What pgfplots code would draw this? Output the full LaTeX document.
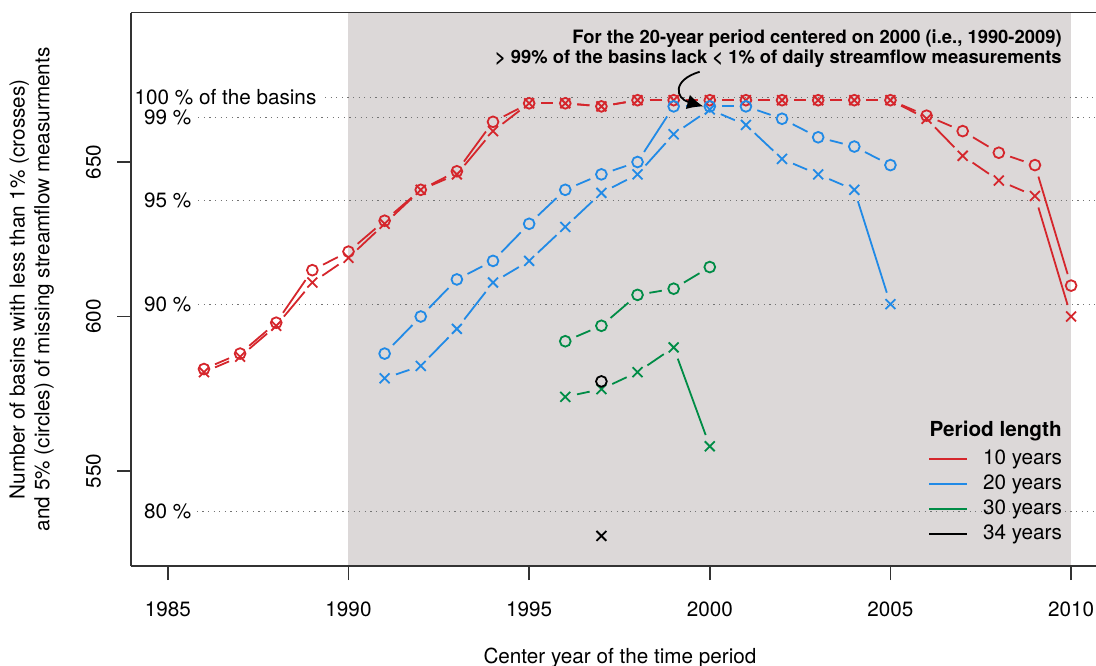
\documentclass[border=0pt]{standalone}
\usepackage{fontspec}
\setmainfont{TeX Gyre Heros}
\usepackage{pgfplots}
\usepackage{pgfplotstable}
\pgfplotsset{compat=1.18}
\usetikzlibrary{arrows.meta}

\definecolor{r10}{RGB}{213,38,44}
\definecolor{b20}{RGB}{33,138,230}
\definecolor{g30}{RGB}{0,140,70}
\definecolor{bgc}{RGB}{220,216,216}

\pgfplotstableread{
year c x
1986 583 582
1987 588 587
1988 598 597
1989 615 611
1990 621 619
1991 631 630
1992 641 641
1993 647 646
1994 663 660
1995 669 669
1996 669 669
1997 668 668
1998 670 670
1999 670 670
2000 670 670
2001 670 670
2002 670 670
2003 670 670
2004 670 670
2005 670 670
2006 665 664
2007 660 652
2008 653 644
2009 649 639
2010 610 600
}\tenyr

\pgfplotstableread{
year c x
1991 588 580
1992 600 584
1993 612 596
1994 618 611
1995 630 618
1996 641 629
1997 646 640
1998 650 646
1999 668 659
2000 668 667
2001 668 662
2002 664 651
2003 658 646
2004 655 641
2005 649 604
}\twentyyr

\pgfplotstableread{
year c x
1996 592 574
1997 597 576.5
1998 607 582
1999 609 590
2000 616 558
}\thirtyyr

\pgfplotstableread{
year c x
1997 579 529
}\thirtyfouryr

\pgfplotstablecreatecol[create col/expr={\nextrow{year}-\thisrow{year}}]{dyr}{\tenyr}
\pgfplotstablecreatecol[create col/expr={\nextrow{c}-\thisrow{c}}]{dc}{\tenyr}
\pgfplotstablecreatecol[create col/expr={\nextrow{x}-\thisrow{x}}]{dx}{\tenyr}
\pgfplotstablecreatecol[create col/expr={\nextrow{year}-\thisrow{year}}]{dyr}{\twentyyr}
\pgfplotstablecreatecol[create col/expr={\nextrow{c}-\thisrow{c}}]{dc}{\twentyyr}
\pgfplotstablecreatecol[create col/expr={\nextrow{x}-\thisrow{x}}]{dx}{\twentyyr}
\pgfplotstablecreatecol[create col/expr={\nextrow{year}-\thisrow{year}}]{dyr}{\thirtyyr}
\pgfplotstablecreatecol[create col/expr={\nextrow{c}-\thisrow{c}}]{dc}{\thirtyyr}
\pgfplotstablecreatecol[create col/expr={\nextrow{x}-\thisrow{x}}]{dx}{\thirtyyr}

\pgfplotsset{
  seg/.style={forget plot, no markers, line width=0.9pt, -,
    quiver={u=\thisrow{dyr}, v=\thisrow{#1},
      every arrow/.append style={shorten <=6pt, shorten >=6pt}}},
  circ/.style={forget plot, only marks, mark=o, mark size=2.7pt, mark options={solid, line width=0.9pt}},
  crs/.style={forget plot, only marks, mark=x, mark size=3.5pt, mark options={solid, line width=0.9pt}},
  refl/.style={forget plot, line width=0.6pt, black!55, dash pattern=on 0.6pt off 2.2pt},
}

\begin{document}
\fontsize{10.35}{12.4}\selectfont
\begin{tikzpicture}
\begin{axis}[name=ax, scale only axis, width=482.5pt, height=276.75pt,
  xmin=1983.98, xmax=2010.69, ymin=519.26, ymax=698.38,
  axis x line*=box, axis y line*=left,
  axis line style={-, black!80, line width=0.75pt},
  xtick={1985,1990,1995,2000,2005,2010}, ytick={550,600,650},
  tick align=outside, xtick pos=left, ytick pos=left, major tick length=7pt,
  tick style={black!80, line width=0.75pt},
  /pgf/number format/1000 sep={}, /pgf/number format/assume math mode=true,
  xticklabel style={anchor=north, inner sep=0pt},
  xticklabel shift=10.8pt,
  yticklabel style={rotate=90, anchor=south, inner sep=0pt},
  yticklabel shift=7.8pt,
  xlabel={Center year of the time period},
  xlabel style={at={(rel axis cs:0.5067,0)}, anchor=center, yshift=-46pt},
  ylabel={Number of basins with less than 1\% (crosses)\\and 5\% (circles) of missing streamflow measurments},
  ylabel style={at={(rel axis cs:-0.1030,0.5)}, anchor=center, align=center},
  axis on top,
  legend style={at={(0.9675,0.2155)}, anchor=north east, draw=none, fill=none,
    inner sep=0pt, outer sep=0pt, column sep=6.2pt, row sep=0pt,
    nodes={inner sep=1.3pt, text height=7.6pt, text depth=2.3pt}},
  legend cell align=left,
  legend image code/.code={\draw[#1, line width=1pt] (0pt,0pt) -- (19pt,0pt);},
]
% shaded period
\addplot[fill=bgc, draw=none, forget plot] coordinates {(1990,698.38) (2010,698.38)} \closedcycle;

% reference lines
\addplot[refl] coordinates {(1989.35,671) (2011,671)};
\addplot[refl] coordinates {(1985.84,664.29) (2011,664.29)};
\addplot[refl] coordinates {(1985.84,637.45) (2011,637.45)};
\addplot[refl] coordinates {(1985.84,603.9) (2011,603.9)};
\addplot[refl] coordinates {(1985.80,536.8) (2011,536.8)};

% segments
\addplot[seg=dc, r10, skip coords between index={24}{25}] table[x=year, y=c] {\tenyr};
\addplot[seg=dx, r10, skip coords between index={24}{25}] table[x=year, y=x] {\tenyr};
\addplot[seg=dc, b20, skip coords between index={14}{15}] table[x=year, y=c] {\twentyyr};
\addplot[seg=dx, b20, skip coords between index={14}{15}] table[x=year, y=x] {\twentyyr};
\addplot[seg=dc, g30, skip coords between index={4}{5}] table[x=year, y=c] {\thirtyyr};
\addplot[seg=dx, g30, skip coords between index={4}{5}] table[x=year, y=x] {\thirtyyr};

% markers
\addplot[circ, r10] table[x=year, y=c] {\tenyr};
\addplot[crs, r10] table[x=year, y=x] {\tenyr};
\addplot[circ, b20] table[x=year, y=c] {\twentyyr};
\addplot[crs, b20] table[x=year, y=x] {\twentyyr};
\addplot[circ, g30] table[x=year, y=c] {\thirtyyr};
\addplot[crs, g30] table[x=year, y=x] {\thirtyyr};
\addplot[circ, black] table[x=year, y=c] {\thirtyfouryr};
\addplot[crs, black] table[x=year, y=x] {\thirtyfouryr};

% legend
\addlegendimage{r10}\addlegendentry{10 years}
\addlegendimage{b20}\addlegendentry{20 years}
\addlegendimage{g30}\addlegendentry{30 years}
\addlegendimage{black}\addlegendentry{34 years}

% annotations
\node[anchor=west, inner sep=0pt] at (axis cs:1984.07,671) {100 \% of the basins};
\node[anchor=east, inner sep=0pt] at (axis cs:1985.66,664.29) {99 \%};
\node[anchor=east, inner sep=0pt] at (axis cs:1985.66,637.45) {95 \%};
\node[anchor=east, inner sep=0pt] at (axis cs:1985.66,603.9) {90 \%};
\node[anchor=east, inner sep=0pt] at (axis cs:1985.66,536.8) {80 \%};

\node[anchor=east, inner sep=0pt, font=\bfseries] at (axis cs:2009.75,562.8) {Period length};

\node[anchor=east, align=right, inner sep=0pt, font=\bfseries\fontsize{9.2}{10}\selectfont]
  at (axis cs:2009.75,686.7)
  {For the 20-year period centered on 2000 (i.e., 1990-2009)\\> 99\% of the basins lack < 1\% of daily streamflow measurements};

\draw[-{Latex[length=8pt,width=7.5pt]}, line width=0.9pt]
  (axis cs:1999.72,679.2) .. controls (axis cs:1998.95,676.5) and (axis cs:1999.05,670.6) .. (axis cs:1999.82,668.0);
\end{axis}
\pgfresetboundingbox
\path ([xshift=-65.5pt,yshift=-49.5pt]ax.south west) rectangle ([yshift=6.25pt]ax.north east);
\end{tikzpicture}
\end{document}
